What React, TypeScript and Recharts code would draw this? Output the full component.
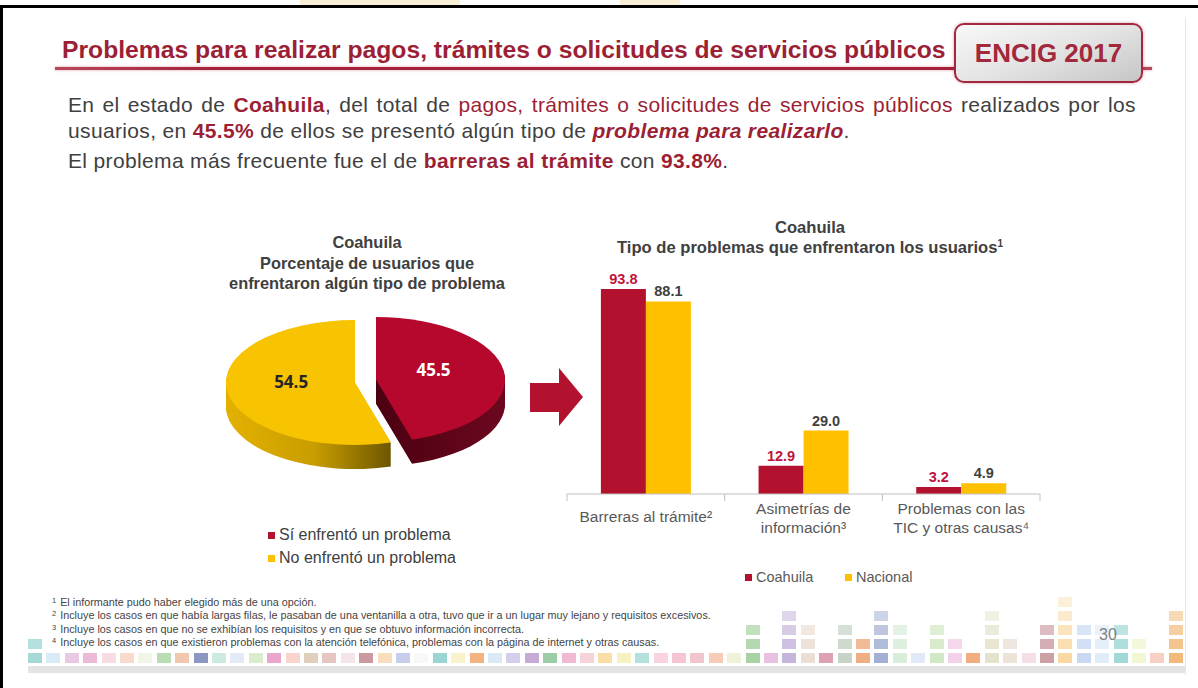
import React from "react";
import { BarChart, Bar, XAxis, YAxis, Legend, LabelList, PieChart, Pie, Cell } from "recharts";

const SANS = '"Liberation Sans", Arial, sans-serif';
const RED = "#b3122e";
const YELLOW = "#ffc000";
const TITLE_RED = "#9c1f35";
const TEXT = "#404040";

// bar chart data
const categories = ["Barreras al trámite²", "Asimetrías de\ninformación³", "Problemas con las\nTIC y otras causas⁴"];
const coahuila = [93.8, 12.9, 3.2];
const nacional = [88.1, 29.0, 4.9];
const seriesNames = ["Coahuila", "Nacional"];

// pie data
const pieLabels = ["Sí enfrentó un problema", "No enfrentó un problema"];
const pieValues = [45.5, 54.5];

const footnotes = [
  ["1", "El informante pudo haber elegido más de una opción."],
  ["2", "Incluye los casos en que había largas filas, le pasaban de una ventanilla a otra, tuvo que ir a un lugar muy lejano y requisitos excesivos."],
  ["3", "Incluye los casos en que no se exhibían los requisitos y en que se obtuvo información incorrecta."],
  ["4", "Incluye los casos en que existieron problemas con la atención telefónica, problemas con la página de internet y otras causas."],
];

const barData = categories.map((name, i) => ({ name, coahuila: coahuila[i], nacional: nacional[i] }));
const pieData = pieLabels.map((name, i) => ({ name, value: pieValues[i] }));

// 3d pie look
const SQUASH = 0.484;
const PIE_R = 129;
const DEPTH = 50;
const depthSteps = Array.from({ length: DEPTH / 2 }, (_, i) => DEPTH - i * 2);
const YCX = 150, YCY = 186;
const RCX = 171, RCY = 180;

// footer tiles (decoration)
const tileColors = [
  "#8fd0cc", "#cfe6f4", "#e4bcd9", "#e6a9cd", "#f6d3da", "#f7d2c2", "#eef2df", "#a9d39f", "#efb99b", "#6f7db3",
  "#bfe5d6", "#dce5f6", "#cfe7c1", "#e48fbf", "#f6c9c1", "#d8c4aa", "#e1b8b1", "#f4dde6", "#bf7f88", "#f8d5ae",
  "#b8c2e7", "#f6f6f6", "#7fcac7", "#f7efbf", "#ef9f62", "#cfe3f4", "#c9c0e7", "#b796cb", "#81bf8f", "#efa8c8",
  "#f4c8d0", "#f7d68f", "#f4efb0", "#a0dbd6", "#f7c8d8", "#f4b7c7", "#efb7bf", "#f4bfa7", "#e8efcf", "#91c78a",
  "#e1b2d7", "#b7a2d2", "#e6d6c8", "#d58a9d", "#b8c8b8", "#ec9a66", "#8c9cc8", "#cfe8d2", "#d8e4f6", "#c6e2b6",
  "#f0c6e2", "#ef9a5f", "#dcdcc0", "#e8dcd0", "#f3d6e0", "#c08890", "#f8cf8a", "#bcd0f0", "#d8e8f8", "#88d0cc",
  "#eef4c8", "#f4c6b4", "#f0a858",
];
const tileStacks: Record<number, number> = {
  0: 2, 39: 3, 41: 4, 42: 3, 44: 3, 45: 2, 46: 4, 47: 3, 49: 3, 50: 2,
  52: 4, 53: 2, 55: 3, 56: 5, 57: 3, 58: 3, 59: 3, 60: 2, 62: 4,
};

const RADIAN = Math.PI / 180;
const makePieLabel = (showIndex: number, color: string, factor: number) => (props: any) => {
  const { cx, cy, midAngle, outerRadius, index, value } = props;
  if (index !== showIndex) return null;
  const r = outerRadius * factor;
  const x = cx + r * Math.cos(-midAngle * RADIAN);
  const y = cy + r * Math.sin(-midAngle * RADIAN) - 12;
  return (
    <text
      x={0}
      y={0}
      transform={`translate(${x},${y}) scale(1,${1 / SQUASH})`}
      textAnchor="middle"
      dominantBaseline="central"
      fill={color}
      fontSize={17}
      fontWeight="bold"
      fontFamily='"Open Sans", sans-serif'
    >
      {Number(value).toFixed(1)}
    </text>
  );
};

function CategoryTick(props: any) {
  const { x, y, payload } = props;
  const lines = String(payload.value).split("\n");
  const half = payload.offset || 78.8;
  const isLast = payload.index === categories.length - 1;
  const start = lines.length === 1 ? 23 : 15;
  return (
    <g>
      <line x1={x - half} x2={x - half} y1={y} y2={y + 7} stroke="#bfbfbf" />
      {isLast && <line x1={x + half} x2={x + half} y1={y} y2={y + 7} stroke="#bfbfbf" />}
      <text textAnchor="middle" fill="#595959" fontSize={15.5} fontFamily={SANS}>
        {lines.map((l, i) => (
          <tspan key={i} x={x} y={y + start + i * 19 + 5}>
            {l}
          </tspan>
        ))}
      </text>
    </g>
  );
}

function BarLegend(props: any) {
  const payload = props.payload || [];
  const lefts = [178, 278];
  return (
    <div style={{ position: "relative", height: 20 }}>
      {payload.map((p: any, i: number) => (
        <div
          key={i}
          style={{
            position: "absolute", left: lefts[i], top: 0, height: 20, display: "flex", alignItems: "center",
            fontSize: 14.5, color: "#595959", fontFamily: SANS, whiteSpace: "nowrap",
          }}
        >
          <span style={{ width: 7, height: 7, background: p.color, marginRight: 4, display: "inline-block" }} />
          {p.value}
        </div>
      ))}
    </div>
  );
}

const red = { color: TITLE_RED };
const redBold = { color: TITLE_RED, fontWeight: "bold" as const };
const lead = { position: "absolute" as const, left: 68, lineHeight: "26px", fontSize: 21, letterSpacing: 0.35, color: TEXT, whiteSpace: "nowrap" as const };

export default function App() {
  return (
    <div style={{ position: "relative", width: 1198, height: 688, background: "#fff", overflow: "hidden", fontFamily: SANS }}>
      <style>{`body{margin:0}`}</style>

      {/* frame */}
      <div style={{ position: "absolute", left: 300, top: 0, width: 160, height: 5, background: "#f8eed6" }} />
      <div style={{ position: "absolute", left: 620, top: 0, width: 60, height: 5, background: "#f8eed6" }} />
      <div style={{ position: "absolute", left: 0, top: 5, width: 1198, height: 3, background: "#000" }} />
      <div style={{ position: "absolute", left: 0, top: 5, width: 3, height: 683, background: "#000" }} />
      <div style={{ position: "absolute", left: 1185, top: 17, width: 1, height: 658, background: "#e6e6e6" }} />

      {/* title */}
      <div style={{ position: "absolute", left: 55, top: 67, width: 1097, height: 3, background: "linear-gradient(to right,#b9475b,#a3213a 15%,#a3213a 85%,#b9475b)", boxShadow: "0 0 3px rgba(190,60,80,0.5)" }} />
      <div style={{ position: "absolute", left: 62, top: 35, lineHeight: "30px", fontSize: 24.7, fontWeight: "bold", color: TITLE_RED, whiteSpace: "nowrap" }}>
        Problemas para realizar pagos, trámites o solicitudes de servicios públicos
      </div>
      <div style={{
        position: "absolute", left: 954, top: 23, width: 185, height: 56, border: "2px solid #a3283f", borderRadius: 10,
        background: "linear-gradient(160deg,#f8f8f8 0%,#e4e4e4 50%,#c6c6c6 100%)", boxShadow: "0 0 3px rgba(160,30,50,0.45)",
        display: "flex", alignItems: "center", justifyContent: "center", fontSize: 26, fontWeight: "bold", color: "#a2283c",
      }}>
        ENCIG 2017
      </div>

      {/* lead text */}
      <div style={{ ...lead, top: 92, wordSpacing: 2 }}>
        En el estado de <span style={redBold}>Coahuila</span>, del total de <span style={red}>pagos, trámites o solicitudes de servicios públicos</span> realizados por los
      </div>
      <div style={{ ...lead, top: 118 }}>
        usuarios, en <span style={redBold}>45.5%</span> de ellos se presentó algún tipo de <span style={{ ...redBold, fontStyle: "italic" }}>problema para realizarlo</span>.
      </div>
      <div style={{ ...lead, top: 148 }}>
        El problema más frecuente fue el de <span style={redBold}>barreras al trámite</span> con <span style={redBold}>93.8%</span>.
      </div>

      {/* pie title */}
      <div style={{ position: "absolute", left: 197, top: 232, width: 340, textAlign: "center", lineHeight: "20.5px", fontSize: 16.4, fontWeight: "bold", color: TEXT, whiteSpace: "nowrap" }}>
        Coahuila<br />Porcentaje de usuarios que<br />enfrentaron algún tipo de problema
      </div>

      {/* 3d pie */}
      <div style={{ position: "absolute", left: 200, top: 290, width: 330, height: 210 }}>
        <div style={{ transform: `scaleY(${SQUASH})`, transformOrigin: "0 0" }}>
          <PieChart width={330} height={430}>
            <defs>
              <linearGradient id="ySide" gradientUnits="userSpaceOnUse" x1="22" y1="0" x2="190" y2="0">
                <stop offset="0%" stopColor="#e4b200" />
                <stop offset="55%" stopColor="#c99d00" />
                <stop offset="100%" stopColor="#6e5700" />
              </linearGradient>
              <linearGradient id="rSide" gradientUnits="userSpaceOnUse" x1="170" y1="0" x2="310" y2="0">
                <stop offset="0%" stopColor="#4a0010" />
                <stop offset="100%" stopColor="#6d0820" />
              </linearGradient>
            </defs>
            {depthSteps.map((d) => (
              <Pie key={"y" + d} data={pieData} dataKey="value" cx={YCX} cy={YCY + d} outerRadius={PIE_R}
                startAngle={90} endAngle={-270} stroke="none" isAnimationActive={false}>
                <Cell fill="transparent" />
                <Cell fill="url(#ySide)" />
              </Pie>
            ))}
            <Pie data={pieData} dataKey="value" cx={YCX} cy={YCY} outerRadius={PIE_R} startAngle={90} endAngle={-270}
              stroke="none" isAnimationActive={false} labelLine={false} label={makePieLabel(1, "#262626", 0.5)}>
              <Cell fill="transparent" />
              <Cell fill="#f8c300" />
            </Pie>
            {depthSteps.map((d) => (
              <Pie key={"r" + d} data={pieData} dataKey="value" cx={RCX} cy={RCY + d} outerRadius={PIE_R}
                startAngle={90} endAngle={-270} stroke="none" isAnimationActive={false}>
                <Cell fill="url(#rSide)" />
                <Cell fill="transparent" />
              </Pie>
            ))}
            <Pie data={pieData} dataKey="value" cx={RCX} cy={RCY} outerRadius={PIE_R} startAngle={90} endAngle={-270}
              stroke="none" isAnimationActive={false} labelLine={false} label={makePieLabel(0, "#ffffff", 0.45)}>
              <Cell fill="#b5082c" />
              <Cell fill="transparent" />
            </Pie>
          </PieChart>
        </div>
      </div>

      {/* pie legend */}
      {pieLabels.map((name, i) => (
        <div key={name} style={{ position: "absolute", left: 268, top: 525 + i * 23, height: 20, display: "flex", alignItems: "center", fontSize: 16, color: TEXT, whiteSpace: "nowrap" }}>
          <span style={{ width: 7, height: 7, background: i === 0 ? RED : YELLOW, marginRight: 4, display: "inline-block" }} />
          {name}
        </div>
      ))}

      {/* arrow */}
      <svg style={{ position: "absolute", left: 0, top: 0 }} width={1198} height={688} pointerEvents="none">
        <polygon points="530,383 559,383 559,368 583,397 559,426 559,412 530,412" fill={RED} />
      </svg>

      {/* bar title */}
      <div style={{ position: "absolute", left: 580, top: 218, width: 460, textAlign: "center", lineHeight: "20px", fontSize: 16.6, fontWeight: "bold", color: TEXT, whiteSpace: "nowrap" }}>
        Coahuila<br />Tipo de problemas que enfrentaron los usuarios<span style={{ fontSize: 10, position: "relative", top: -6 }}>1</span>
      </div>

      {/* bar chart */}
      <div style={{ position: "absolute", left: 550, top: 262 }}>
        <BarChart width={510} height={325} data={barData} margin={{ top: 13.4, right: 20, left: 17, bottom: 0 }}
          barCategoryGap="21.5%" barGap={0} style={{ fontFamily: SANS }}>
          <XAxis dataKey="name" axisLine={{ stroke: "#bfbfbf" }} tickLine={false} tickSize={0} tickMargin={0}
            height={73} interval={0} tick={(p: any) => <CategoryTick {...p} />} />
          <YAxis hide domain={[0, 100]} />
          <Legend verticalAlign="bottom" height={20} content={(p: any) => <BarLegend {...p} />} />
          <Bar dataKey="coahuila" name={seriesNames[0]} fill={RED} isAnimationActive={false}>
            <LabelList dataKey="coahuila" position="top" fill="#c0143c" fontSize={14.5} fontWeight="bold"
              formatter={(v: any) => Number(v).toFixed(1)} />
          </Bar>
          <Bar dataKey="nacional" name={seriesNames[1]} fill={YELLOW} isAnimationActive={false}>
            <LabelList dataKey="nacional" position="top" fill="#404040" fontSize={14.5} fontWeight="bold"
              formatter={(v: any) => Number(v).toFixed(1)} />
          </Bar>
        </BarChart>
      </div>

      {/* footnotes */}
      {footnotes.map(([sup, text], i) => (
        <div key={i} style={{ position: "absolute", left: 52, top: 596 + i * 13.3, lineHeight: "13px", fontSize: 10.8, color: "#444", whiteSpace: "nowrap" }}>
          <span style={{ fontSize: 7.5, position: "relative", top: -3, marginRight: 4 }}>{sup}</span>
          {text}
        </div>
      ))}

      {/* footer tiles */}
      {tileColors.map((c, i) =>
        Array.from({ length: tileStacks[i] || 1 }, (_, k) => (
          <div key={i + "-" + k} style={{ position: "absolute", left: 28 + i * 18.4, top: 653 - k * 14, width: 14, height: 10, background: c, opacity: 0.8 - k * 0.12 }} />
        ))
      )}
      <div style={{ position: "absolute", left: 28, top: 666, width: 1157, height: 7, background: "#e4e4e4" }} />
      <div style={{ position: "absolute", left: 1099, top: 626, fontSize: 16, color: "#7f7f7f" }}>30</div>
    </div>
  );
}
